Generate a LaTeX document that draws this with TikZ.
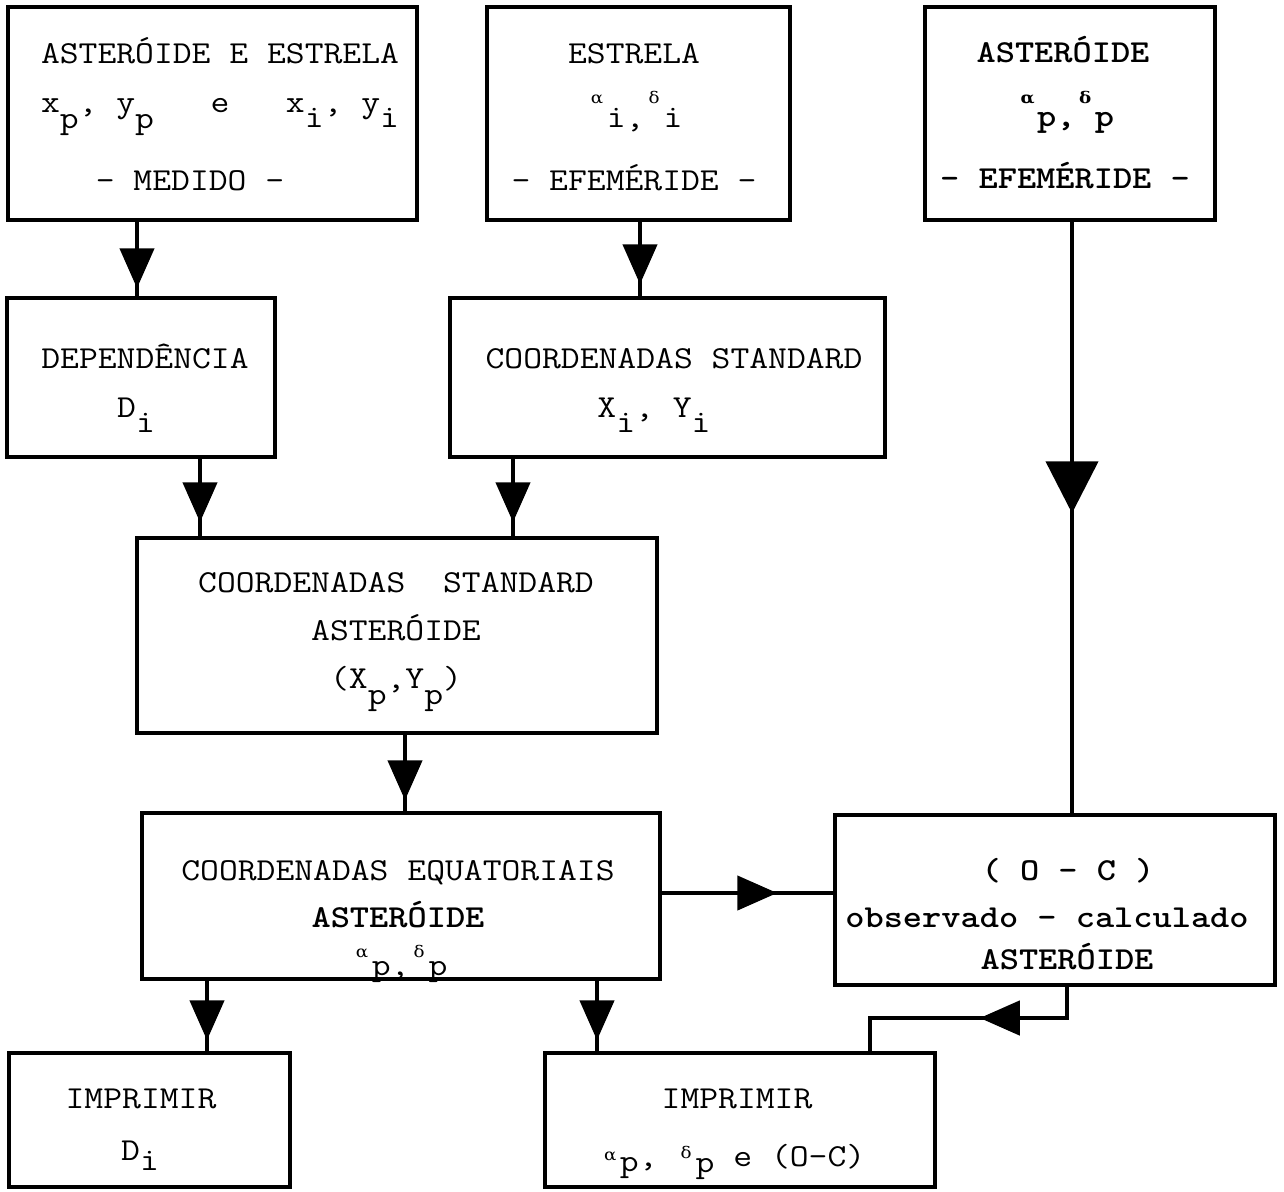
\documentclass[tikz,border=0pt]{standalone}
\usepackage{fontspec}
\usepackage{graphicx}
\newfontfamily\grk{DejaVu Serif}
\usetikzlibrary{arrows.meta,decorations.markings}
\newcommand\tw[1]{\scalebox{1.143}[1]{#1}}
\newcommand\lo[2][15pt]{\raisebox{-#1}{#2}}
\newcommand\gk[2][22pt]{\raisebox{#1}{\makebox[16.8pt][c]{\grk\fontsize{16}{16}\selectfont #2}}}
\tikzset{
  box/.style={draw, line width=4.5pt, inner sep=0pt},
  txt/.style={inner sep=0pt, anchor=base, font=\fontsize{32}{38}\selectfont\ttfamily},
  btxt/.style={txt, font=\fontsize{32}{38}\selectfont\ttfamily\bfseries},
  conn/.style={line width=4.5pt},
  tri/.tip={Triangle[length=40pt,width=34pt]},
  bigtri/.tip={Triangle[length=52pt,width=52pt]},
  arr/.style={postaction={decorate}, decoration={markings, mark=at position #1 with {\arrow{tri}}}},
  arrbig/.style={postaction={decorate}, decoration={markings, mark=at position #1 with {\arrow{bigtri}}}},
}
\begin{document}
\begin{tikzpicture}[x=1pt,y=-1pt]
\useasboundingbox (0,0) rectangle (1284,1191);
% boxes
\node[box, minimum width=409pt, minimum height=213pt] (A) at (212.5,113.5) {};
\node[box, minimum width=303pt, minimum height=213pt] (B) at (638.5,113.5) {};
\node[box, minimum width=290pt, minimum height=213pt] (C) at (1070,113.5) {};
\node[box, minimum width=268pt, minimum height=159pt] (D) at (141,377.5) {};
\node[box, minimum width=435pt, minimum height=159pt] (E) at (667.5,377.5) {};
\node[box, minimum width=520pt, minimum height=195pt] (F) at (397,635.5) {};
\node[box, minimum width=518pt, minimum height=166pt] (G) at (401,896) {};
\node[box, minimum width=440pt, minimum height=170pt] (H) at (1055,900) {};
\node[box, minimum width=281pt, minimum height=134pt] (I) at (149.5,1120) {};
\node[box, minimum width=390pt, minimum height=134pt] (J) at (740,1120) {};
% texts
\node[txt] (A1) at (220,63) {\tw{ASTERÓIDE E ESTRELA}};
\node[txt] (A2) at (220,112) {\tw{x\lo[16pt]{p}, y\lo[16pt]{p}\ \ \ e\ \ \ x\lo{i}, y\lo{i}}};
\node[txt] (A3) at (190,190) {\tw{- MEDIDO -}};
\node[txt] (B1) at (634,63) {\tw{ESTRELA}};
\node[txt] (B2) at (635,127) {\tw{\gk[24pt]{α}i,\gk[24pt]{δ}i}};
\node[txt] (B3) at (634,190) {\tw{- EFEMÉRIDE -}};
\node[btxt] (C1) at (1063,62) {\tw{ASTERÓIDE}};
\node[btxt] (C2) at (1066,126) {\tw{\gk[23pt]{α}p,\gk[23pt]{δ}p}};
\node[btxt] (C3) at (1065,188) {\tw{- EFEMÉRIDE -}};
\node[txt] (D1) at (145,368) {\tw{DEPENDÊNCIA}};
\node[txt] (D2) at (136,417) {\tw{D\lo{i}}};
\node[txt] (E1) at (674,368) {\tw{COORDENADAS STANDARD}};
\node[txt] (E2) at (654,417) {\tw{X\lo{i}, Y\lo{i}}};
\node[txt] (F1) at (396,592) {\tw{COORDENADAS\ \ STANDARD}};
\node[txt] (F2) at (396,640) {\tw{ASTERÓIDE}};
\node[txt] (F3) at (396,688) {\tw{(X\lo[16pt]{p},Y\lo[16pt]{p})}};
\node[txt] (G1) at (398,880) {\tw{COORDENADAS EQUATORIAIS}};
\node[btxt] (G2) at (398,927) {\tw{ASTERÓIDE}};
\node[txt] (G3) at (400,975) {\tw{\gk[18pt]{α}p,\gk[18pt]{δ}p}};
\node[btxt] (H1) at (1068,880) {\tw{( O - C )}};
\node[btxt] (H2) at (1047,927) {\tw{observado - calculado}};
\node[btxt] (H3) at (1067,969) {\tw{ASTERÓIDE}};
\node[txt] (I1) at (141,1108) {\tw{IMPRIMIR}};
\node[txt] (I2) at (140,1160) {\tw{D\lo[10pt]{i}}};
\node[txt] (J1) at (737,1108) {\tw{IMPRIMIR}};
\node[txt] (J2) at (733,1166) {\tw{\gk[6pt]{α}\lo[5pt]{p}, \gk[8pt]{δ}\lo[6pt]{p} e (O-C)}};
% connector x/y references
\coordinate (xAD) at (137,0);
\coordinate (xBE) at (640,0);
\coordinate (xDF) at (200,0);
\coordinate (xEF) at (513,0);
\coordinate (xCH) at (1072,0);
\coordinate (xFG) at (405,0);
\coordinate (yGH) at (0,893);
\coordinate (xGI) at (207,0);
\coordinate (xGJ) at (597,0);
\coordinate (xHJ) at (1067,0);
\coordinate (yHJ) at (0,1018);
\coordinate (xJH) at (870,0);
% connectors
\draw[conn, arr=66pt] (A.south -| xAD) -- (D.north -| xAD);
\draw[conn, arr=62pt] (B.south -| xBE) -- (E.north -| xBE);
\draw[conn, arr=63pt] (D.south -| xDF) -- (F.north -| xDF);
\draw[conn, arr=63pt] (E.south -| xEF) -- (F.north -| xEF);
\draw[conn, arrbig=291pt] (C.south -| xCH) -- (H.north -| xCH);
\draw[conn, arr=65pt] (F.south -| xFG) -- (G.north -| xFG);
\draw[conn, arr=115pt] (G.east |- yGH) -- (H.west |- yGH);
\draw[conn, arr=59pt] (G.south -| xGI) -- (I.north -| xGI);
\draw[conn, arr=59pt] (G.south -| xGJ) -- (J.north -| xGJ);
\draw[conn, arr=118pt] (H.south -| xHJ) -- (xHJ |- yHJ) -- (xJH |- yHJ) -- (J.north -| xJH);
\end{tikzpicture}
\end{document}
